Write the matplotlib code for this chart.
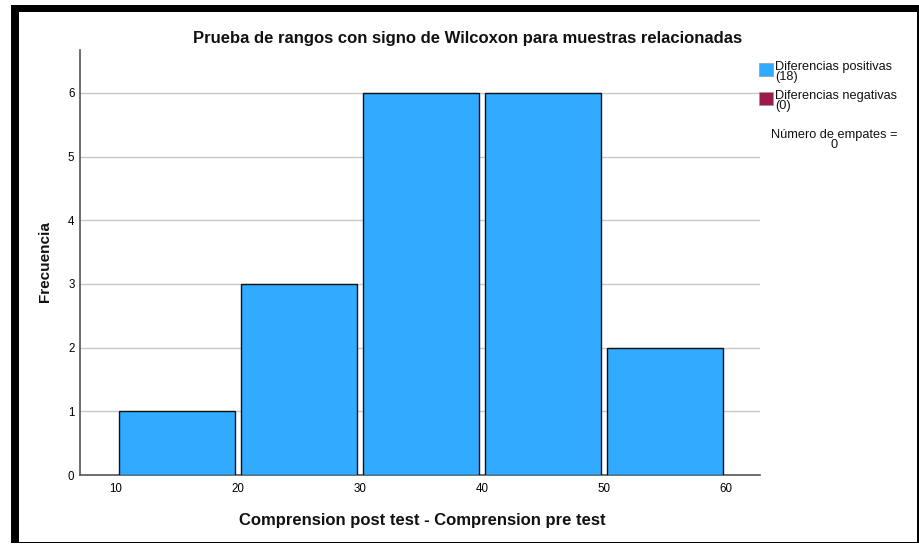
import matplotlib
matplotlib.use('Agg')
import matplotlib.pyplot as plt
from matplotlib.patches import Rectangle

# histogram data
bin_edges = [10, 20, 30, 40, 50, 60]
counts = [1, 3, 6, 6, 2]
y_ticks = [0, 1, 2, 3, 4, 5, 6]
x_ticks = [10, 20, 30, 40, 50, 60]
legend_labels = ["Diferencias positivas\n(18)", "Diferencias negativas\n(0)"]
legend_colors = ["#30abff", "#9b1b4a"]
ties_text = "Número de empates =\n0"

plt.rcParams['font.family'] = ['Liberation Sans', 'DejaVu Sans']

W, H = 920, 544
fig = plt.figure(figsize=(W / 100, H / 100), dpi=100)

# outer frame: thick on left/top, thin on right/bottom
fig.patches.append(Rectangle((11 / W, 1 - 543 / H), 908 / W, 538 / H,
                             transform=fig.transFigure, facecolor="black",
                             edgecolor="none", zorder=-5))
fig.patches.append(Rectangle((19 / W, 1 - 541.5 / H), 898.5 / W, 529.5 / H,
                             transform=fig.transFigure, facecolor="white",
                             edgecolor="none", zorder=-4))

ax = fig.add_axes([80 / W, 1 - 475 / H, 680 / W, 425 / H])
ax.set_facecolor("none")

centers = [(bin_edges[i] + bin_edges[i + 1]) / 2 for i in range(len(counts))]
ax.bar(centers, counts, width=9.5, color=legend_colors[0],
       edgecolor="#111111", linewidth=1, zorder=3)

ax.set_xlim(7.05, 62.8)
ax.set_ylim(0, 6.675)
ax.set_yticks(y_ticks)
ax.set_xticks(x_ticks)
ax.tick_params(axis="y", length=0, labelsize=8.3, pad=4)
ax.tick_params(axis="x", length=0, labelsize=8.3, pad=6)
ax.yaxis.grid(True, color="#c8c8c8", linewidth=1, zorder=0)
ax.set_axisbelow(True)
for s in ["top", "right"]:
    ax.spines[s].set_visible(False)
for s in ["left", "bottom"]:
    ax.spines[s].set_color("#555555")
    ax.spines[s].set_linewidth(1.2)

fig.text(468 / W, 1 - 38 / H, "Prueba de rangos con signo de Wilcoxon para muestras relacionadas",
         ha="center", va="center", fontsize=12, fontweight="bold", color="#111111")
fig.text(422 / W, 1 - 521 / H, "Comprension post test - Comprension pre test",
         ha="center", va="center", fontsize=12, fontweight="bold", color="#111111")
fig.text(45 / W, 1 - 262 / H, "Frecuencia", ha="center", va="center",
         rotation=90, fontsize=11, fontweight="bold", color="#111111")

# legend drawn by hand
sq_tops = [63, 92]
for lab, col, top in zip(legend_labels, legend_colors, sq_tops):
    fig.patches.append(Rectangle((759 / W, 1 - (top + 13) / H), 14 / W, 13 / H,
                                 transform=fig.transFigure, facecolor=col,
                                 edgecolor="#999999", linewidth=0.5))
    fig.text(775 / W, 1 - (top + 9) / H, lab, ha="left", va="center",
             fontsize=9.2, linespacing=0.85, color="#111111")
fig.text(834 / W, 1 - 140 / H, ties_text, ha="center", va="center",
         fontsize=9.2, linespacing=0.85, color="#111111")

fig.savefig("out.png", dpi=100)
